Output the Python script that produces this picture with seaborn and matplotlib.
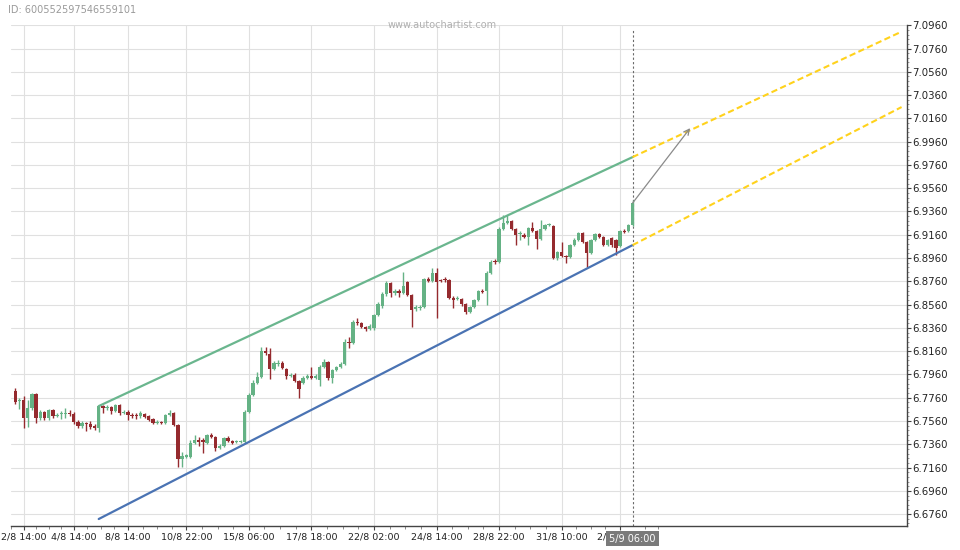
import matplotlib
matplotlib.use("Agg")
import matplotlib.pyplot as plt
import matplotlib.transforms as mtransforms
from matplotlib.ticker import FixedLocator, FormatStrFormatter
import numpy as np
import pandas as pd
import seaborn as sns

# 4h candles
opens = [
    6.7817, 6.7731, 6.7740, 6.7585, 6.7671, 6.7792, 6.7585, 6.7637, 6.7585, 6.7654,
    6.7602, 6.7620, 6.7620, 6.7628, 6.7620, 6.7551, 6.7516, 6.7542, 6.7534, 6.7516,
    6.7499, 6.7688, 6.7671, 6.7680, 6.7645, 6.7697, 6.7628, 6.7637, 6.7611, 6.7611,
    6.7602, 6.7620, 6.7602, 6.7577, 6.7542, 6.7551, 6.7542, 6.7611, 6.7628, 6.7525,
    6.7233, 6.7250, 6.7250, 6.7370, 6.7396, 6.7396, 6.7370, 6.7439, 6.7422, 6.7327,
    6.7344, 6.7413, 6.7387, 6.7379, 6.7379, 6.7379, 6.7637, 6.7783, 6.7886, 6.7938,
    6.8160, 6.8135, 6.8007, 6.8050, 6.8058, 6.8007, 6.7946, 6.7955, 6.7903, 6.7886,
    6.7929, 6.7946, 6.7929, 6.7912, 6.8024, 6.8067, 6.7929, 6.7998, 6.8024, 6.8050,
    6.8238, 6.8229, 6.8410, 6.8401, 6.8367, 6.8350, 6.8358, 6.8470, 6.8547, 6.8651,
    6.8745, 6.8659, 6.8676, 6.8659, 6.8754, 6.8642, 6.8522, 6.8530, 6.8539, 6.8780,
    6.8762, 6.8831, 6.8771, 6.8780, 6.8771, 6.8616, 6.8608, 6.8608, 6.8565, 6.8496,
    6.8539, 6.8599, 6.8676, 6.8676, 6.8831, 6.8934, 6.8926, 6.9209, 6.9260, 6.9277,
    6.9209, 6.9166, 6.9157, 6.9140, 6.9217, 6.9191, 6.9123, 6.9209, 6.9243, 6.9234,
    6.8960, 6.9011, 6.8977, 6.8969, 6.9071, 6.9114, 6.9174, 6.9097, 6.9003, 6.9114,
    6.9166, 6.9140, 6.9071, 6.9131, 6.9114, 6.9063, 6.9191, 6.9191, 6.9243,
]
highs = [
    6.7843, 6.7757, 6.7774, 6.7740, 6.7800, 6.7800, 6.7654, 6.7645, 6.7663, 6.7663,
    6.7628, 6.7645, 6.7671, 6.7654, 6.7637, 6.7568, 6.7559, 6.7551, 6.7559, 6.7534,
    6.7697, 6.7697, 6.7697, 6.7688, 6.7706, 6.7706, 6.7654, 6.7654, 6.7628, 6.7628,
    6.7645, 6.7628, 6.7611, 6.7585, 6.7568, 6.7559, 6.7620, 6.7654, 6.7637, 6.7534,
    6.7293, 6.7276, 6.7396, 6.7439, 6.7422, 6.7413, 6.7448, 6.7456, 6.7430, 6.7362,
    6.7422, 6.7430, 6.7396, 6.7396, 6.7396, 6.7654, 6.7800, 6.7912, 6.7981, 6.8195,
    6.8195, 6.8186, 6.8075, 6.8084, 6.8075, 6.8015, 6.7972, 6.7972, 6.7912, 6.7946,
    6.7964, 6.8024, 6.7964, 6.8041, 6.8092, 6.8075, 6.8007, 6.8032, 6.8067, 6.8264,
    6.8281, 6.8427, 6.8444, 6.8410, 6.8375, 6.8393, 6.8479, 6.8582, 6.8668, 6.8762,
    6.8754, 6.8694, 6.8694, 6.8840, 6.8762, 6.8651, 6.8556, 6.8556, 6.8788, 6.8797,
    6.8874, 6.8874, 6.8780, 6.8797, 6.8780, 6.8633, 6.8633, 6.8616, 6.8573, 6.8547,
    6.8608, 6.8685, 6.8694, 6.8848, 6.8943, 6.8951, 6.9226, 6.9329, 6.9329, 6.9286,
    6.9217, 6.9191, 6.9174, 6.9226, 6.9269, 6.9200, 6.9286, 6.9252, 6.9260, 6.9243,
    6.9020, 6.9097, 6.8986, 6.9080, 6.9131, 6.9183, 6.9183, 6.9106, 6.9123, 6.9174,
    6.9174, 6.9148, 6.9123, 6.9140, 6.9123, 6.9200, 6.9209, 6.9252, 6.9458,
]
lows = [
    6.7706, 6.7663, 6.7499, 6.7508, 6.7654, 6.7542, 6.7568, 6.7568, 6.7568, 6.7585,
    6.7594, 6.7577, 6.7585, 6.7602, 6.7534, 6.7499, 6.7499, 6.7473, 6.7491, 6.7482,
    6.7465, 6.7628, 6.7654, 6.7620, 6.7637, 6.7611, 6.7620, 6.7568, 6.7585, 6.7577,
    6.7585, 6.7585, 6.7559, 6.7534, 6.7534, 6.7534, 6.7534, 6.7602, 6.7516, 6.7164,
    6.7164, 6.7241, 6.7241, 6.7362, 6.7344, 6.7284, 6.7362, 6.7413, 6.7301, 6.7319,
    6.7336, 6.7379, 6.7362, 6.7370, 6.7370, 6.7370, 6.7628, 6.7774, 6.7878, 6.7929,
    6.8126, 6.7921, 6.7998, 6.8032, 6.8007, 6.7921, 6.7938, 6.7895, 6.7757, 6.7878,
    6.7921, 6.7921, 6.7921, 6.7860, 6.8015, 6.7912, 6.7886, 6.7989, 6.8015, 6.8041,
    6.8186, 6.8221, 6.8384, 6.8358, 6.8332, 6.8341, 6.8341, 6.8461, 6.8530, 6.8633,
    6.8625, 6.8642, 6.8625, 6.8651, 6.8633, 6.8367, 6.8504, 6.8513, 6.8530, 6.8754,
    6.8754, 6.8444, 6.8754, 6.8754, 6.8608, 6.8530, 6.8599, 6.8547, 6.8479, 6.8487,
    6.8530, 6.8590, 6.8659, 6.8556, 6.8823, 6.8909, 6.8917, 6.9200, 6.9252, 6.9200,
    6.9071, 6.9114, 6.9131, 6.9071, 6.9183, 6.9037, 6.9114, 6.9200, 6.9234, 6.8951,
    6.8943, 6.8969, 6.8917, 6.8960, 6.9063, 6.9106, 6.9088, 6.8883, 6.8994, 6.9106,
    6.9131, 6.9063, 6.9063, 6.9054, 6.8986, 6.9054, 6.9174, 6.9183, 6.9234,
]
closes = [
    6.7723, 6.7740, 6.7585, 6.7671, 6.7792, 6.7585, 6.7637, 6.7585, 6.7654, 6.7602,
    6.7611, 6.7628, 6.7628, 6.7620, 6.7551, 6.7516, 6.7542, 6.7534, 6.7508, 6.7499,
    6.7688, 6.7671, 6.7680, 6.7645, 6.7697, 6.7628, 6.7637, 6.7611, 6.7602, 6.7602,
    6.7628, 6.7594, 6.7568, 6.7542, 6.7551, 6.7542, 6.7611, 6.7628, 6.7525, 6.7233,
    6.7259, 6.7267, 6.7370, 6.7396, 6.7379, 6.7379, 6.7439, 6.7422, 6.7327, 6.7344,
    6.7413, 6.7387, 6.7370, 6.7387, 6.7387, 6.7637, 6.7783, 6.7886, 6.7938, 6.8160,
    6.8143, 6.8007, 6.8058, 6.8058, 6.8015, 6.7946, 6.7955, 6.7903, 6.7835, 6.7929,
    6.7946, 6.7929, 6.7946, 6.8024, 6.8067, 6.7929, 6.7998, 6.8024, 6.8050, 6.8238,
    6.8229, 6.8410, 6.8401, 6.8367, 6.8350, 6.8375, 6.8470, 6.8565, 6.8651, 6.8745,
    6.8659, 6.8676, 6.8659, 6.8719, 6.8642, 6.8513, 6.8539, 6.8539, 6.8780, 6.8762,
    6.8831, 6.8754, 6.8762, 6.8771, 6.8616, 6.8599, 6.8616, 6.8565, 6.8496, 6.8539,
    6.8599, 6.8676, 6.8668, 6.8831, 6.8926, 6.8926, 6.9209, 6.9260, 6.9277, 6.9209,
    6.9157, 6.9174, 6.9140, 6.9217, 6.9191, 6.9123, 6.9209, 6.9243, 6.9252, 6.8960,
    6.9011, 6.8977, 6.8969, 6.9071, 6.9114, 6.9174, 6.9097, 6.9003, 6.9114, 6.9166,
    6.9140, 6.9071, 6.9114, 6.9071, 6.9045, 6.9191, 6.9183, 6.9243, 6.9432,
]

tick_pos = [2, 14, 27, 41, 56, 71, 86, 101, 116, 131, 145]
tick_labels = ["2/8 14:00", "4/8 14:00", "8/8 14:00", "10/8 22:00", "15/8 06:00",
               "17/8 18:00", "22/8 02:00", "24/8 14:00", "28/8 22:00", "31/8 10:00",
               "2/9 22:00"]
current_label = "5/9 06:00"

# channel (trend lines) and projection
channel_idx = [20, 148]
channel_upper = [6.7688, 6.9827]
channel_lower = [6.6718, 6.9071]
proj_idx = [148, 212.5]
proj_upper = [6.9827, 7.0905]
proj_lower = [6.9071, 7.0257]
arrow_idx = [148, 161.8]
arrow_price = [6.9432, 7.0076]

GREEN = "#65b285"
RED = "#952a2e"

sns.set_style("whitegrid")
plt.rcParams['font.family'] = ['DejaVu Sans']

fig = plt.figure(figsize=(9.6, 5.5), dpi=100)
ax = fig.add_axes([11 / 960, 24 / 550, 896 / 960, 501 / 550])

df = pd.DataFrame({"open": opens, "high": highs, "low": lows, "close": closes})
df["idx"] = np.arange(len(df))
colors = np.where(df["close"] >= df["open"], GREEN, RED)

ax.vlines(df["idx"], df["low"], df["high"], colors=colors, lw=1.0, zorder=3)
body = (df["close"] - df["open"]).abs().clip(lower=0.0009)
ax.bar(df["idx"], body, bottom=df[["open", "close"]].min(axis=1),
       width=0.8, color=colors, lw=0, zorder=4)

sns.lineplot(x=channel_idx, y=channel_upper, color="#6ab68e", lw=1.6, ax=ax, zorder=5)
sns.lineplot(x=channel_idx, y=channel_lower, color="#4a73b3", lw=1.6, ax=ax, zorder=5)
sns.lineplot(x=proj_idx, y=proj_upper, color="#ffd21c", lw=1.5,
             linestyle=(0, (3, 1.6)), ax=ax, zorder=5)
sns.lineplot(x=proj_idx, y=proj_lower, color="#ffd21c", lw=1.5,
             linestyle=(0, (3, 1.6)), ax=ax, zorder=5)
ax.annotate("", xy=(arrow_idx[1], arrow_price[1]),
            xytext=(arrow_idx[0], arrow_price[0]),
            arrowprops=dict(arrowstyle="->", color="#8a8a8a", lw=0.9,
                            shrinkA=0, shrinkB=0), zorder=6)

ax.axvline(df["idx"].iloc[-1], ymax=0.99, color="#6a6a6a", lw=0.8,
           ls=(0, (2, 2)), zorder=2)

ax.set_xlim(-1.03, 213.8)
ax.set_ylim(6.6658, 7.0962)

ax.xaxis.set_major_locator(FixedLocator(tick_pos))
ax.set_xticklabels(tick_labels)
minor_x = []
for a, b in zip(tick_pos[:-1], tick_pos[1:]):
    minor_x += [a + (b - a) * k / 4 for k in (1, 2, 3)]
minor_x += [-1, 151, 154]
ax.xaxis.set_minor_locator(FixedLocator(minor_x))

ax.yaxis.tick_right()
ax.yaxis.set_major_locator(FixedLocator(np.arange(6.676, 7.1, 0.02)))
ax.yaxis.set_minor_locator(FixedLocator(np.arange(6.668, 7.097, 0.004)))
ax.yaxis.set_major_formatter(FormatStrFormatter("%.4f"))

ax.tick_params(axis="x", which="major", bottom=True, length=3, width=0.8,
               color="#444444", pad=1.5, labelsize=6.8, labelcolor="#222222")
ax.tick_params(axis="x", which="minor", bottom=True, length=1.8, width=0.6,
               color="#777777")
ax.tick_params(axis="y", which="major", right=True, left=False, length=3,
               width=0.8, color="#444444", pad=0.6, labelsize=7.3,
               labelcolor="#222222")
ax.tick_params(axis="y", which="minor", right=True, left=False, length=1.6,
               width=0.6, color="#888888")

ax.grid(True, which="major", color="#e0e0e0", lw=0.8)
ax.set_axisbelow(True)
for side in ["left", "top"]:
    ax.spines[side].set_visible(False)
for side in ["right", "bottom"]:
    ax.spines[side].set_visible(True)
    ax.spines[side].set_color("#444444")
    ax.spines[side].set_linewidth(1.0)

# current-candle time marker sits over the axis labels, as on the source chart
trans = mtransforms.blended_transform_factory(ax.transData, ax.transAxes)
ax.text(df["idx"].iloc[-1], -0.025, current_label, transform=trans,
        ha="center", va="center", color="white", fontsize=7, zorder=10,
        clip_on=False,
        bbox=dict(boxstyle="square,pad=0.3", fc="#7a7a7a", ec="none"))

fig.text(442 / 960, 1 - 25 / 550, "www.autochartist.com", ha="center",
         va="center", color="#b0b0b0", fontsize=7)
fig.text(8 / 960, 1 - 10 / 550, "ID: 600552597546559101", ha="left",
         va="center", color="#9a9a9a", fontsize=7)

fig.savefig("out.png", dpi=100)
